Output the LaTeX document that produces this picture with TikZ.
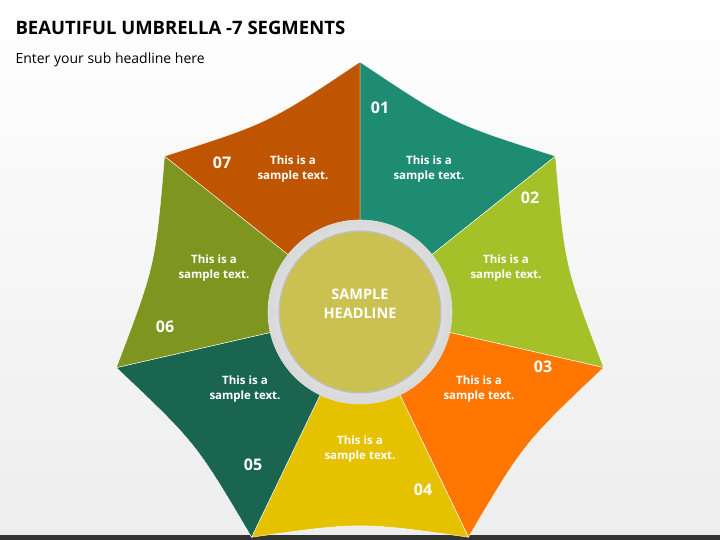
\documentclass[tikz,border=0pt]{standalone}
\usepackage{fontspec}
\setmainfont{Open Sans}
\usetikzlibrary{calc}
\begin{document}
\begin{tikzpicture}[x=1pt,y=1pt,
  segtxt/.style={text=white,font=\fontsize{11.5}{15}\selectfont\bfseries,align=center},
  numtxt/.style={text=white,font=\fontsize{16}{19}\selectfont\bfseries}]
\definecolor{cA}{HTML}{1E8C72}\definecolor{cB}{HTML}{A4C12A}
\definecolor{cC}{HTML}{FF7700}\definecolor{cD}{HTML}{E6C100}
\definecolor{cE}{HTML}{1A6550}\definecolor{cF}{HTML}{7E9520}
\definecolor{cG}{HTML}{C05500}
\useasboundingbox (0,0) rectangle (720,540);
\shade[top color=white,bottom color=black!7] (0,0) rectangle (720,540);
\fill[black!80] (0,0) rectangle (720,5);
\node[anchor=west,font=\fontsize{18.5}{22}\selectfont\bfseries] (title) at (12,512) {BEAUTIFUL UMBRELLA -7 SEGMENTS};
\node[anchor=west,font=\fontsize{14}{17}\selectfont] (sub) at (12,480) {Enter your sub headline here};
\coordinate (O) at (360,228);
\foreach \k/\c in {0/cA,1/cB,2/cC,3/cD,4/cE,5/cF,6/cG}{
  \pgfmathsetmacro{\a}{90-\k*360/7}
  \pgfmathsetmacro{\b}{90-(\k+1)*360/7}
  \pgfmathsetmacro{\m}{90-(\k+0.5)*360/7}
  \fill[\c,draw=white,line width=0.4pt] (O) -- ($(O)+(\a:250)$) .. controls ($(O)+(\m:210)$) .. ($(O)+(\b:250)$) -- cycle;
}
\node[numtxt] (n1) at (380,432) {01};
\node[numtxt] (n2) at (530,342) {02};
\node[numtxt] (n3) at (543,173) {03};
\node[numtxt] (n4) at (423,50) {04};
\node[numtxt] (n5) at (253,75) {05};
\node[numtxt] (n6) at (165,213) {06};
\node[numtxt] (n7) at (222,377) {07};
\node[segtxt] (t1) at (429,371) {This is a\\sample text.};
\node[segtxt] (t2) at (506,272) {This is a\\sample text.};
\node[segtxt] (t3) at (479,151) {This is a\\sample text.};
\node[segtxt] (t4) at (360,91) {This is a\\sample text.};
\node[segtxt] (t5) at (245,151) {This is a\\sample text.};
\node[segtxt] (t6) at (214,272) {This is a\\sample text.};
\node[segtxt] (t7) at (293,371) {This is a\\sample text.};
\shade[inner color=white,outer color=black!15] (O) circle (92);
\draw[black!12,line width=0.6pt] (O) circle (92);
\fill[black!25] (O) circle (81.5);
\fill[color={rgb,255:red,203;green,192;blue,82}] (O) circle (80);
\node[text=white,font=\fontsize{14.5}{19}\selectfont\bfseries,align=center] (hd) at (360,236) {SAMPLE\\HEADLINE};
\end{tikzpicture}
\end{document}
